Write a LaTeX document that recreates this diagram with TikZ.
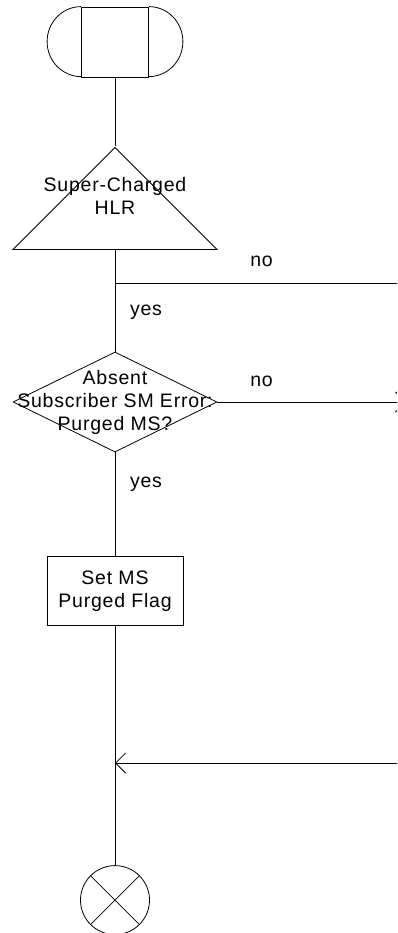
\documentclass[tikz,border=0pt]{standalone}
\usepackage{fontspec}
\setmainfont{Liberation Sans}[LetterSpace=4]
\usetikzlibrary{arrows.meta,positioning,shapes.geometric}

\begin{document}
\begin{tikzpicture}[x=1pt, y=-1pt, line width=0.8pt, >={Straight Barb[length=10pt,width=20pt]},
 txt/.style = {font=\fontsize{19.5}{23}\selectfont, align=center, inner sep=0pt},
 terminator/.style = {draw, rectangle, minimum width=67pt, minimum height=70pt, inner sep=0pt},
 hlrtri/.style = {draw, isosceles triangle, isosceles triangle stretches, shape border rotate=90, minimum width=204pt, minimum height=102pt, inner sep=0pt},
 decision/.style = {draw, diamond, minimum width=204pt, minimum height=100pt, inner sep=0pt},
 block/.style = {draw, rectangle, minimum width=136pt, minimum height=69pt, txt},
 stopper/.style = {draw, circle, minimum size=69pt, inner sep=0pt},
 lbl/.style = {txt, anchor=base},
                        ]
    \useasboundingbox (0,0) rectangle (397,933);
    \clip (0,0) rectangle (397,933);

    \node [terminator]                          (start)    at (115,42) {};
    \draw (start.north west) arc[start angle=90, end angle=270, x radius=34pt, y radius=35pt];
    \draw (start.north east) arc[start angle=90, end angle=-90, x radius=34pt, y radius=35pt];
    \node [hlrtri, below=69pt of start, anchor=apex] (hlr) {};
    \node [txt]                                 (hlr_txt)  at (115,196) {Super-Charged\\ HLR};
    \node [decision]                            (purged)   at (115,402) {};
    \node [txt]                                 (purged_txt) at (purged.center) {Absent\\ Subscriber SM Error:\\ Purged MS?};
    \node [block, below=104pt of purged]        (setflag)  {Set MS\\ Purged Flag};
    \node [stopper, below=239pt of setflag]     (stop)     {};
    \draw (stop.45) -- (stop.225) (stop.135) -- (stop.315);

    \node [lbl] (no_hlr)    at (261.5,266) {no};
    \node [lbl] (yes_hlr)   at (146,315)   {yes};
    \node [lbl] (no_purged) at (261.5,386) {no};
    \node [lbl] (yes_purged) at (146,487)  {yes};

    \coordinate (hlr_out)    at (400,283);
    \coordinate (purged_out) at (406,402);
    \coordinate (join_in)    at (400,763);

%% paths
    \path[draw] (start)              edge  (hlr.apex)
                (hlr.lower side)     edge  (purged.north)
                (hlr_out -| purged)  edge  (hlr_out)
                (purged.south)       edge  (setflag.north)
                (setflag.south)      edge  (stop.north)
                ;
    \draw[->] (purged.east) -- (purged_out);
    \draw[->] (join_in)     -- (join_in -| setflag);
\end{tikzpicture}
\end{document}
